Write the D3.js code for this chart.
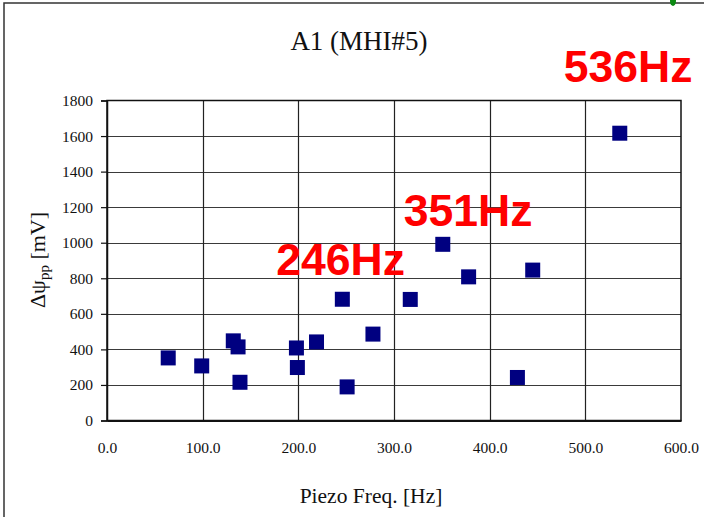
<!DOCTYPE html>
<html>
<head>
<meta charset="utf-8">
<script src="https://cdn.jsdelivr.net/npm/d3@7"></script>
<style>
  html, body { margin: 0; padding: 0; background: #fff; }
  svg { display: block; }
</style>
</head>
<body>
<svg id="chart" width="704" height="517"></svg>
<script>
// Piezo drive frequency [Hz] and peak-to-peak potential change [mV]
const freqHz = [64, 99, 132, 137, 139, 198, 199, 219, 246, 251, 278, 317, 351, 378, 429, 445, 536];
const deltaPsi = [352, 307, 448, 414, 215, 408, 298, 442, 682, 189, 486, 681, 991, 808, 242, 846, 1616];
// Frequencies called out in red
const highlightHz = [246, 351, 536];
const xTicks = [0, 100, 200, 300, 400, 500, 600];
const yTicks = [0, 200, 400, 600, 800, 1000, 1200, 1400, 1600, 1800];

const svg = d3.select("#chart");
const W = 704, H = 517;
svg.append("rect").attr("width", W).attr("height", H).attr("fill", "#fff");

// outer chart frame
svg.append("rect")
  .attr("x", 4).attr("y", 3).attr("width", 900).attr("height", 700)
  .attr("fill", "none").attr("stroke", "#333").attr("stroke-width", 1.5);
svg.append("ellipse")
  .attr("cx", 673).attr("cy", 1).attr("rx", 3).attr("ry", 5)
  .attr("fill", "#0b8a12");

const plot = { left: 107, right: 681, top: 100.5, bottom: 420.5 };
const x = d3.scaleLinear().domain([0, 600]).range([plot.left, plot.right]);
const y = d3.scaleLinear().domain([0, 1800]).range([plot.bottom, plot.top]);

const serif = "'Liberation Serif', 'Times New Roman', serif";
const sans = "'Liberation Sans', Arial, sans-serif";

// grid
const grid = svg.append("g");
grid.selectAll("line.h").data(yTicks.slice(1, -1)).join("line")
  .attr("x1", plot.left).attr("x2", plot.right)
  .attr("y1", d => Math.round(y(d)) + 0.5).attr("y2", d => Math.round(y(d)) + 0.5)
  .attr("stroke", "#3a3a3a").attr("stroke-width", 1.2);
grid.selectAll("line.v").data(xTicks.slice(1, -1)).join("line")
  .attr("y1", plot.top).attr("y2", plot.bottom)
  .attr("x1", d => Math.round(x(d)) + 0.5).attr("x2", d => Math.round(x(d)) + 0.5)
  .attr("stroke", "#222").attr("stroke-width", 1.2);
svg.append("rect")
  .attr("x", plot.left).attr("y", plot.top)
  .attr("width", plot.right - plot.left).attr("height", plot.bottom - plot.top)
  .attr("fill", "none").attr("stroke", "#111").attr("stroke-width", 1.5);

// y axis
const yAxis = svg.append("g")
  .attr("transform", `translate(${plot.left},0)`)
  .call(d3.axisLeft(y).tickValues(yTicks).tickFormat(d3.format("d")).tickSizeOuter(0).tickSize(6).tickPadding(8));
yAxis.select(".domain").attr("stroke", "#111").attr("stroke-width", 1.5);
yAxis.selectAll(".tick line").attr("stroke", "#111").attr("stroke-width", 1.2);
yAxis.selectAll(".tick text").attr("font-family", serif).attr("font-size", 15.5).attr("fill", "#111");

// x axis
const xAxis = svg.append("g")
  .attr("transform", `translate(0,${plot.bottom})`)
  .call(d3.axisBottom(x).tickValues(xTicks).tickFormat(d3.format(".1f")).tickSize(0).tickPadding(21));
xAxis.select(".domain").attr("stroke", "#111").attr("stroke-width", 2);
xAxis.selectAll(".tick text").attr("font-family", serif).attr("font-size", 15.5).attr("fill", "#111");

// titles
svg.append("text")
  .attr("x", 359).attr("y", 50).attr("text-anchor", "middle")
  .attr("font-family", serif).attr("font-size", 27).attr("fill", "#111")
  .text("A1 (MHI#5)");
svg.append("text")
  .attr("x", 371).attr("y", 503).attr("text-anchor", "middle")
  .attr("font-family", serif).attr("font-size", 21.5).attr("fill", "#111")
  .text("Piezo Freq. [Hz]");
const yt = svg.append("text")
  .attr("transform", "translate(45,260) rotate(-90)")
  .attr("text-anchor", "middle")
  .attr("font-family", serif).attr("font-size", 22).attr("fill", "#111");
yt.append("tspan").text("Δψ");
yt.append("tspan").attr("font-size", 15).attr("dy", 4).text("pp");
yt.append("tspan").attr("dy", -4).text(" [mV]");

// data markers
const side = 15;
svg.append("g").selectAll("rect").data(freqHz.map((f, i) => [f, deltaPsi[i]])).join("rect")
  .attr("x", d => x(d[0]) - side / 2).attr("y", d => y(d[1]) - side / 2)
  .attr("width", side).attr("height", side)
  .attr("fill", "#000080");

// red frequency callouts, placed up and to the left of their markers
const calloutOffset = { 246: -66, 351: -39, 536: -56 };
const calloutBaseline = { 246: 274.5, 351: 226, 536: 81.5 };
svg.append("g").selectAll("text").data(highlightHz).join("text")
  .attr("x", d => x(d) + calloutOffset[d])
  .attr("y", d => calloutBaseline[d])
  .attr("font-family", sans).attr("font-weight", "bold").attr("font-size", 44.5)
  .attr("fill", "#ff0000")
  .text(d => d + "Hz");
</script>
</body>
</html>
